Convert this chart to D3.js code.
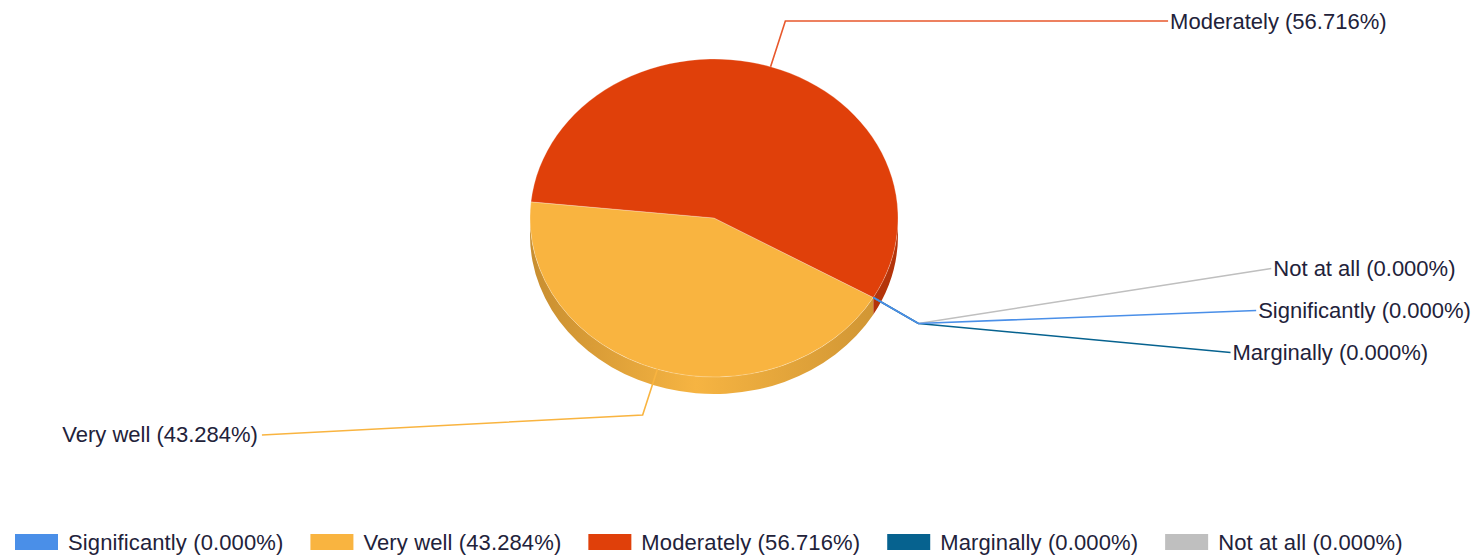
<!DOCTYPE html>
<html>
<head>
<meta charset="utf-8">
<script src="https://cdn.jsdelivr.net/npm/d3@7"></script>
<style>
  body { margin: 0; background: #fff; }
  text { font-family: "Liberation Sans", Arial, sans-serif; font-size: 22px; fill: #22223a; }
  .legend text { letter-spacing: 0.12px; }
</style>
</head>
<body>
<div class="chart"></div>
<script>
// data
let categories = ["Significantly", "Very well", "Moderately", "Marginally", "Not at all"]
let percents = [0, 43.284, 56.716, 0, 0]
let colorList = ["#4a8fe8", "#f9b440", "#e0400a", "#06628f", "#bfbfbf"]
let sideList = ["#3a70c0", "#d49a38", "#b4340a", "#044c70", "#999999"]
// order of the zero slice labels, top to bottom
let zeroOrder = ["Not at all", "Significantly", "Marginally"]

let width = 1484, height = 559
let cx = 714, cy = 218, rx = 184, ry = 159, depth = 17
let ext = 48

let color = d3.scaleOrdinal(categories, colorList)
let sideColor = d3.scaleOrdinal(categories, sideList)
let fmt = d3.format(".3f")
let labelOf = (c, v) => c + " (" + fmt(v) + "%)"

let svg = d3.select(".chart")
  .append("svg")
  .attr("width", width)
  .attr("height", height)

let rows = categories.map((c, i) => ({ name: c, value: percents[i] }))

// pie angles run clockwise from 12 o'clock, first slice starts at 4 o'clock-ish
let pie = d3.pie()
  .sort(null)
  .value(d => d.value)
  .startAngle(2 * Math.PI / 3)
  .endAngle(2 * Math.PI / 3 + 2 * Math.PI)

let arcs = pie(rows).map(d => {
  d.a0 = d.startAngle - Math.PI / 2
  d.a1 = d.endAngle - Math.PI / 2
  d.mid = (d.a0 + d.a1) / 2
  return d
})

let pt = (a, dy = 0) => [cx + rx * Math.cos(a), cy + ry * Math.sin(a) + dy]

let defs = svg.append("defs")
let grad = defs.append("linearGradient")
  .attr("id", "sideVW")
  .attr("gradientUnits", "userSpaceOnUse")
  .attr("x1", cx - rx).attr("x2", cx + rx)
  .attr("y1", 0).attr("y2", 0)
grad.append("stop").attr("offset", "0%").attr("stop-color", "#c88e30")
grad.append("stop").attr("offset", "45%").attr("stop-color", "#f6b442")
grad.append("stop").attr("offset", "100%").attr("stop-color", "#cc9232")

// side walls: only the front half (screen angles 0..PI, repeated every 2PI)
let sides = []
arcs.forEach(d => {
  if (d.value <= 0) return
  for (let k = 0; k < 2; k++) {
    let s = Math.max(d.a0, k * 2 * Math.PI), e = Math.min(d.a1, k * 2 * Math.PI + Math.PI)
    if (e > s) sides.push({ d, s, e })
  }
})

svg.append("g")
  .selectAll("path")
  .data(sides)
  .enter()
  .append("path")
  .attr("d", o => {
    let p0 = pt(o.s), p1 = pt(o.e), q1 = pt(o.e, depth), q0 = pt(o.s, depth)
    return "M" + p0 + "A" + rx + "," + ry + " 0 0 1 " + p1 +
      "L" + q1 + "A" + rx + "," + ry + " 0 0 0 " + q0 + "Z"
  })
  .attr("fill", o => o.d.data.name === "Very well" ? "url(#sideVW)" : sideColor(o.d.data.name))

// top surface
svg.append("g")
  .selectAll("path")
  .data(arcs.filter(d => d.value > 0))
  .enter()
  .append("path")
  .attr("d", d => {
    let large = d.a1 - d.a0 > Math.PI ? 1 : 0
    return "M" + cx + "," + cy + "L" + pt(d.a0) +
      "A" + rx + "," + ry + " 0 " + large + " 1 " + pt(d.a1) + "Z"
  })
  .attr("fill", d => color(d.data.name))
  .attr("stroke", "rgba(255,255,255,0.25)")
  .attr("stroke-width", 1)

// labels sit on a wider ellipse
let la = 563, lb = 353, lcy = cy + 10
let labelX = (y, right) => {
  let t = (y - lcy) / lb
  let dx = la * Math.sqrt(Math.max(0, 1 - t * t))
  return right ? cx + dx : cx - dx
}

let labels = arcs.map(d => {
  let m = d.value > 0 ? d.mid : d.a0
  let start = pt(m)
  let e = d.value > 0 ? ext : ext + 4
  let elbow = [cx + Math.cos(m) * (rx + e), cy + Math.sin(m) * (ry + e)]
  let right = Math.cos(m) >= 0
  let y
  if (d.value > 0) {
    y = right ? elbow[1] : elbow[1] + 20
  } else {
    y = elbow[1] - 55 + zeroOrder.indexOf(d.data.name) * 42
  }
  let x = labelX(y, right)
  if (d.value <= 0) x -= Math.max(0, y - elbow[1] + 40) * 0.12
  let end = right ? [x - 2, y] : [x + 4, y]
  return { d, start, elbow, end, x, y, right }
})

let lg = svg.append("g")
lg.selectAll("path")
  .data(labels.slice().reverse())
  .enter()
  .append("path")
  .attr("d", l => d3.line()([l.start, l.elbow, l.end]))
  .attr("fill", "none")
  .attr("stroke", l => l.d.data.name === "Moderately" ? "#e8582c" : color(l.d.data.name))
  .attr("stroke-width", 1.6)

lg.selectAll("text")
  .data(labels)
  .enter()
  .append("text")
  .attr("x", l => l.x)
  .attr("y", l => l.y)
  .attr("dominant-baseline", "central")
  .attr("text-anchor", l => l.right ? "start" : "end")
  .text(l => labelOf(l.d.data.name, l.d.data.value))

// legend
let legend = svg.append("g").attr("class", "legend")
let lx = 15
rows.forEach(r => {
  legend.append("rect")
    .attr("x", lx).attr("y", 534)
    .attr("width", 43).attr("height", 16)
    .attr("fill", color(r.name))
  let t = legend.append("text")
    .attr("x", lx + 53).attr("y", 542)
    .attr("dominant-baseline", "central")
    .text(labelOf(r.name, r.value))
  lx = lx + 53 + t.node().getComputedTextLength() + 27
})
</script>
</body>
</html>
